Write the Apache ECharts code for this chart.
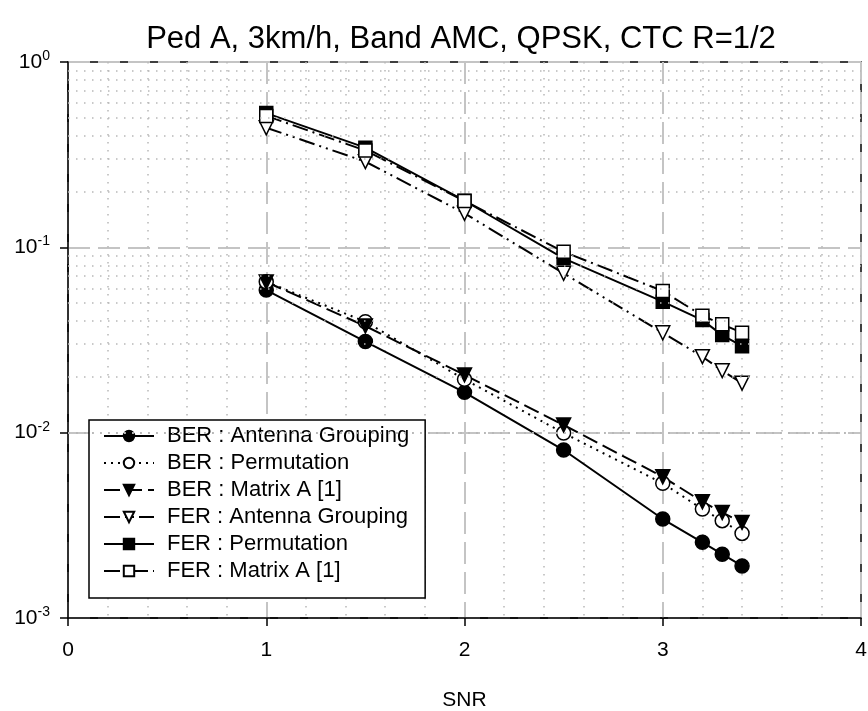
<!DOCTYPE html>
<html>
<head>
<meta charset="utf-8">
<script src="https://cdn.jsdelivr.net/npm/echarts@6/dist/echarts.min.js"></script>
<style>
html,body{margin:0;padding:0;background:#fff;}
#chart{width:868px;height:711px;}
</style>
</head>
<body>
<div id="chart"></div>
<script>
const titleText = 'Ped A, 3km/h, Band AMC, QPSK, CTC R=1/2';
const xName = 'SNR';
const snr = [1, 1.5, 2, 2.5, 3, 3.2, 3.3, 3.4];
const berAntennaGrouping = [0.0588, 0.0310, 0.0165, 0.00806, 0.00342, 0.00256, 0.00221, 0.00191];
const berPermutation     = [0.0652, 0.0397, 0.0194, 0.00995, 0.00533, 0.00387, 0.00335, 0.00286];
const berMatrixA         = [0.0650, 0.0376, 0.0205, 0.0110, 0.00578, 0.00424, 0.00371, 0.00328];
const ferAntennaGrouping = [0.442, 0.290, 0.1526, 0.0724, 0.0346, 0.0257, 0.0216, 0.0185];
const ferPermutation     = [0.530, 0.345, 0.1784, 0.0872, 0.0509, 0.0405, 0.0336, 0.0293];
const ferMatrixA         = [0.512, 0.333, 0.1780, 0.0947, 0.0581, 0.0428, 0.0384, 0.0346];
const seriesNames = ['BER : Antenna Grouping','BER : Permutation','BER : Matrix A [1]','FER : Antenna Grouping','FER : Permutation','FER : Matrix A [1]'];
const minorLogTicks = [0.002,0.003,0.004,0.005,0.006,0.007,0.008,0.009,
                       0.02,0.03,0.04,0.05,0.06,0.07,0.08,0.09,
                       0.2,0.3,0.4,0.5,0.6,0.7,0.8,0.9];

const FONT = '"Liberation Sans", Arial, sans-serif';
const triDown = 'path://M0,0L10,0L5,8.7Z';
function pts(arr){ return snr.map((x,i)=>[x, arr[i]]); }
function mk(name, data, symbol, filled, lineType, size){
  return {
    name: name, type: 'line', data: pts(data),
    symbol: symbol, symbolSize: size || 14,
    lineStyle: {color:'#000', width: 2, type: lineType},
    itemStyle: {color: filled ? '#000' : '#fff', borderColor:'#000', borderWidth: 1.5},
    z: 3
  };
}

const chart = echarts.init(document.getElementById('chart'), null, {renderer:'canvas'});
chart.setOption({
  animation: false,
  backgroundColor: '#fff',
  textStyle: {fontFamily: FONT},
  title: {
    text: titleText, left: 456, top: 19, textAlign: 'center',
    textStyle: {fontFamily: FONT, fontSize: 31, fontWeight: 'normal', color: '#000'}
  },
  grid: {left: 68, right: 7, top: 62, bottom: 93, outerBoundsMode: 'none', containLabel: false,
         show: true, borderColor: '#000', borderWidth: 1.5, backgroundColor: 'transparent'},
  legend: {
    orient: 'vertical', left: 89, top: 420,
    data: seriesNames,
    backgroundColor: '#fff', borderColor: '#000', borderWidth: 1.5,
    padding: [5, 16, 16, 14],
    itemWidth: 50, itemHeight: 13, itemGap: 5,
    textStyle: {fontFamily: FONT, fontSize: 22, color: '#000', padding: [0,0,0,8]}
  },
  xAxis: {
    type: 'value', min: 0, max: 4, interval: 1,
    name: xName, nameLocation: 'middle', nameGap: 72,
    nameTextStyle: {fontFamily: FONT, fontSize: 21, color: '#000'},
    axisLine: {show: true, lineStyle: {color: '#000', width: 1.5}},
    axisTick: {show: true, inside: false, length: 8, lineStyle: {color: '#000', width: 1.5}},
    axisLabel: {fontFamily: FONT, fontSize: 21, color: '#000', margin: 22},
    splitLine: {show: true, lineStyle: {color: '#c4c4c4', width: 2, type: [22, 8]}},
    minorTick: {show: false, splitNumber: 5},
    minorSplitLine: {show: true, lineStyle: {color: '#b8b8b8', width: 1.5, type: [1.5, 6.5]}}
  },
  yAxis: {
    type: 'log', logBase: 10, min: 0.001, max: 1,
    axisLine: {show: true, onZero: false, lineStyle: {color: '#000', width: 1.5}},
    axisTick: {show: true, inside: false, length: 8, lineStyle: {color: '#000', width: 1.5}},
    axisLabel: {
      margin: 18, color: '#000',
      formatter: function(v){ const e = Math.round(Math.log10(v)); return '{b|10}{s|' + e + '}'; },
      rich: {
        b: {fontFamily: FONT, fontSize: 21, color: '#000'},
        s: {fontFamily: FONT, fontSize: 14, color: '#000', padding: [0,0,12,0]}
      }
    },
    splitLine: {show: true, lineStyle: {color: '#c4c4c4', width: 2, type: [22, 8]}}
  },
  series: [
    {
      name: 'minorGrid', type: 'line', data: [], silent: true, z: 1,
      markLine: {
        silent: true, symbol: ['none','none'], label: {show: false},
        lineStyle: {color: '#b8b8b8', width: 1.5, type: [1.5, 6.5]},
        emphasis: {disabled: true},
        data: minorLogTicks.map(v => ({yAxis: v}))
      }
    },
    mk(seriesNames[0], berAntennaGrouping, 'circle', true, 'solid'),
    mk(seriesNames[1], berPermutation, 'circle', false, [2, 5]),
    mk(seriesNames[2], berMatrixA, triDown, true, [16, 6]),
    mk(seriesNames[3], ferAntennaGrouping, triDown, false, [16, 5, 2, 5, 2, 5]),
    mk(seriesNames[4], ferPermutation, 'rect', true, 'solid', 13),
    mk(seriesNames[5], ferMatrixA, 'rect', false, [16, 5, 2, 5], 13)
  ]
});
</script>
</body>
</html>
